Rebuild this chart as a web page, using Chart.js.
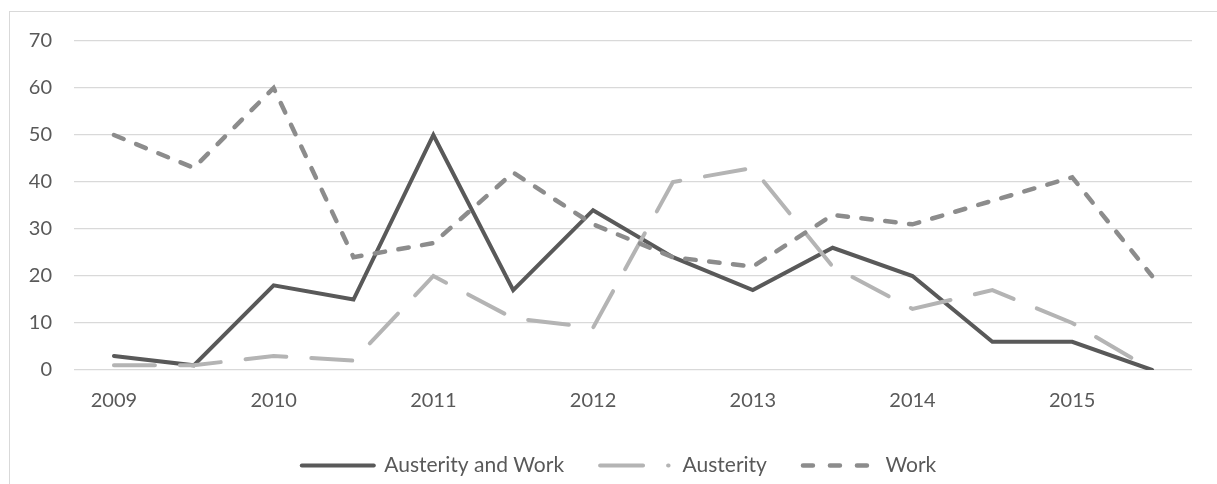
<!DOCTYPE html>
<html>
<head>
<meta charset="utf-8">
<script src="https://cdn.jsdelivr.net/npm/chart.js@4/dist/chart.umd.min.js"></script>
<style>
  html, body { margin: 0; padding: 0; overflow: hidden; background: #fff; }
  #frame { position: absolute; left: 9px; top: 11px; width: 1220px; height: 480px; border: 1px solid #d9d9d9; }
  canvas { display: block; }
</style>
</head>
<body>
<div id="frame"><canvas id="trendChart" width="1220" height="480"></canvas></div>
<script>
// half-year steps, only the year starts carry a label
const categories = ['2009', '', '2010', '', '2011', '', '2012', '', '2013', '', '2014', '', '2015', ''];
const austerityAndWork = [3, 1, 18, 15, 50, 17, 34, 24, 17, 26, 20, 6, 6, 0];
const austerity = [1, 1, 3, 2, 20, 11, 9, 40, 43, 22, 13, 17, 10, 0];
const work = [50, 43, 60, 24, 27, 42, 31, 24, 22, 33, 31, 36, 41, 20];
const yTicks = [0, 10, 20, 30, 40, 50, 60, 70];

const textColor = '#595959';
const tickFont = { family: 'Lato', size: 20 };
const legendFont = { family: 'Lato', size: 21 };

// legend samples: long dash + dot for Austerity, three short dashes for Work
const legendDashes = [[], [43, 25, 0.5, 100], [10, 17]];

function series(label, data, color, width, dash, order) {
    return {
        label: label,
        data: data,
        borderColor: color,
        backgroundColor: color,
        borderWidth: width,
        borderDash: dash,
        borderCapStyle: 'round',
        borderJoinStyle: 'miter',
        pointRadius: 0,
        tension: 0,
        order: order
    };
}

// centre the legend on the whole frame rather than on the padded area
const legendShift = {
    id: 'legendShift',
    afterLayout(chart) {
        chart.legend.left += 18;
        chart.legend.right += 18;
    }
};

new Chart(document.getElementById('trendChart').getContext('2d'), {
    type: 'line',
    data: {
        labels: categories,
        datasets: [
            series('Austerity and Work', austerityAndWork, '#595959', 4, [], 2),
            series('Austerity', austerity, '#b4b4b4', 4, [41, 25], 1),
            series('Work', work, '#8c8c8c', 4.5, [10.5, 13.5], 0)
        ]
    },
    options: {
        responsive: false,
        animation: false,
        layout: { padding: { top: 29, right: 38, left: 0, bottom: 6 } },
        plugins: {
            tooltip: { enabled: false },
            legend: {
                position: 'bottom',
                labels: {
                    color: textColor,
                    font: legendFont,
                    usePointStyle: true,
                    pointStyle: 'line',
                    pointStyleWidth: 72,
                    padding: 36,
                    sort: (a, b) => a.datasetIndex - b.datasetIndex,
                    generateLabels: (chart) => {
                        const items = Chart.defaults.plugins.legend.labels.generateLabels(chart);
                        items.forEach(item => {
                            const ds = chart.data.datasets[item.datasetIndex];
                            item.lineDash = legendDashes[item.datasetIndex];
                            item.lineWidth = ds.borderWidth;
                            item.lineCap = 'round';
                            item.strokeStyle = ds.borderColor;
                        });
                        return items;
                    }
                }
            }
        },
        scales: {
            x: {
                offset: true,
                afterFit: (scale) => { scale.height = 49; },
                grid: { display: false, drawTicks: false },
                border: { display: false },
                ticks: { autoSkip: false, maxRotation: 0, color: textColor, font: tickFont, padding: 19 }
            },
            y: {
                min: yTicks[0],
                max: yTicks[yTicks.length - 1],
                afterFit: (scale) => {
                    scale.width = 64;
                    scale.paddingTop = 0;
                    scale.paddingBottom = 0;
                },
                afterBuildTicks: (scale) => { scale.ticks = yTicks.map(v => ({ value: v })); },
                grid: { color: '#d9d9d9', lineWidth: 1.3, drawTicks: false },
                border: { display: false },
                ticks: { color: textColor, font: tickFont, padding: 22 }
            }
        }
    },
    plugins: [legendShift]
});
</script>
</body>
</html>
